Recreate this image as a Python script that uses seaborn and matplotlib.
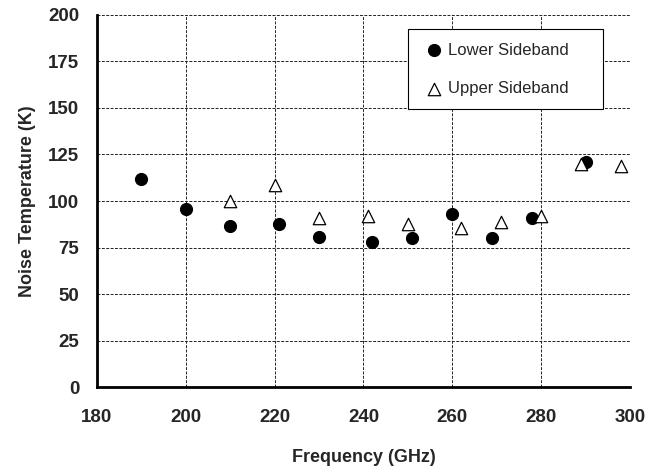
import matplotlib.pyplot as plt
import pandas as pd
import seaborn as sns

# values
lower_freq = [190, 200, 210, 221, 230, 242, 251, 260, 269, 278, 290]
lower_temp = [111.7, 95.8, 86.3, 87.4, 80.8, 78.2, 79.9, 92.8, 79.9, 90.9, 121.2]
upper_freq = [210, 220, 230, 241, 250, 262, 271, 280, 289, 298]
upper_temp = [100.0, 108.6, 90.7, 91.7, 87.4, 85.6, 88.7, 91.9, 119.8, 118.8]

sns.set_style('white')
plt.rcParams['font.family'] = ['Liberation Sans', 'DejaVu Sans']
plt.rcParams['font.weight'] = 'bold'

lower = pd.DataFrame({'Frequency': lower_freq, 'Temp': lower_temp})
upper = pd.DataFrame({'Frequency': upper_freq, 'Temp': upper_temp})

fig = plt.figure(figsize=(6.58, 4.68), dpi=100)
ax = fig.add_axes([0.1474, 0.173, 0.81, 0.795])

sns.scatterplot(data=lower, x='Frequency', y='Temp', ax=ax, marker='o', s=75,
                color='black', edgecolor='black', linewidth=0.8,
                label='Lower Sideband', zorder=3)
sns.scatterplot(data=upper, x='Frequency', y='Temp', ax=ax, marker='^', s=80,
                facecolor='white', edgecolor='black', linewidth=0.9,
                label='Upper Sideband', zorder=3)

ax.set_xlim(180, 300)
ax.set_ylim(0, 200)
ax.set_xticks(range(180, 301, 20))
ax.set_yticks(range(0, 201, 25))
ax.grid(True, color='#222222', linestyle=(0, (3, 1.5)), linewidth=0.7)
ax.set_axisbelow(True)

for side in ['top', 'right']:
    ax.spines[side].set_visible(False)
for side in ['left', 'bottom']:
    ax.spines[side].set_linewidth(2)
    ax.spines[side].set_color('black')

ax.tick_params(axis='both', direction='out', length=3.6, width=1, color='black',
               labelsize=13.5)
ax.tick_params(axis='x', pad=12)
ax.tick_params(axis='y', pad=9)
for lab in ax.get_xticklabels() + ax.get_yticklabels():
    lab.set_fontweight('bold')

ax.set_xlabel('Frequency (GHz)', fontsize=13, fontweight='bold', labelpad=17)
ax.set_ylabel('Noise Temperature (K)', fontsize=13, fontweight='bold', labelpad=9)

leg = ax.legend(loc='upper left', bbox_to_anchor=(0.583, 0.7465, 0.366, 0.2151),
                mode='expand', prop={'size': 12, 'weight': 'normal'},
                frameon=True, fancybox=False, edgecolor='black', framealpha=1,
                handletextpad=0.0, handlelength=1.6, labelspacing=1.4,
                borderpad=0.8, borderaxespad=0)
leg.get_frame().set_linewidth(0.8)

fig.savefig('out.png', dpi=100)
